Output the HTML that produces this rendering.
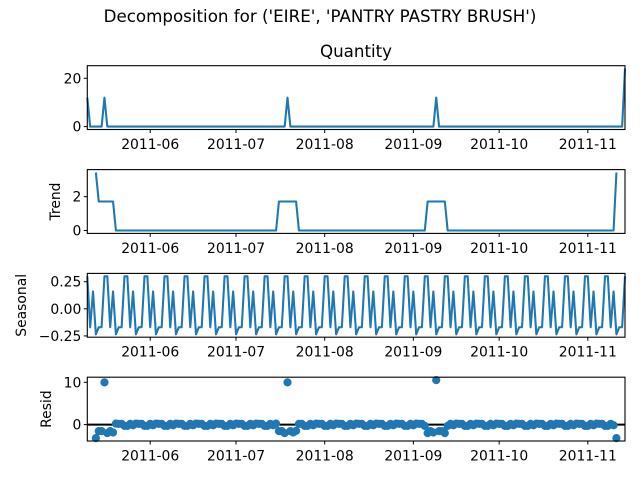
<!DOCTYPE html>
<html><head><meta charset="utf-8"><style>
html,body{margin:0;padding:0;background:#fff;}
svg text{font-family:"DejaVu Sans","Liberation Sans",sans-serif;fill:#000;}
</style></head><body>
<svg id="fig" width="640" height="480" viewBox="0 0 640 480" xmlns="http://www.w3.org/2000/svg">
<rect width="640" height="480" fill="#fff"/>
<text x="320" y="22" text-anchor="middle" font-size="16.7">Decomposition for ('EIRE', 'PANTRY PASTRY BRUSH')</text>
<text x="356" y="57" text-anchor="middle" font-size="16.7">Quantity</text>
<g id="plots"></g>
</svg>
<script>
const observed = [
12,0,0,0,0,0,12,0,0,0,
0,0,0,0,0,0,0,0,0,0,
0,0,0,0,0,0,0,0,0,0,
0,0,0,0,0,0,0,0,0,0,
0,0,0,0,0,0,0,0,0,0,
0,0,0,0,0,0,0,0,0,0,
0,0,0,0,0,0,0,0,0,0,
12,0,0,0,0,0,0,0,0,0,
0,0,0,0,0,0,0,0,0,0,
0,0,0,0,0,0,0,0,0,0,
0,0,0,0,0,0,0,0,0,0,
0,0,0,0,0,0,0,0,0,0,
0,0,12,0,0,0,0,0,0,0,
0,0,0,0,0,0,0,0,0,0,
0,0,0,0,0,0,0,0,0,0,
0,0,0,0,0,0,0,0,0,0,
0,0,0,0,0,0,0,0,0,0,
0,0,0,0,0,0,0,0,0,0,
0,0,0,0,0,0,0,0,24];
const period = 7;
const seasonalPattern = [0.30,-0.17,0.16,-0.235,-0.17,-0.17,0.30];
const monthTickDays = [22,52,83,114,144,175];
const monthTickLabels = ["2011-06","2011-07","2011-08","2011-09","2011-10","2011-11"];
const observedTicks = [0,20];
const trendTicks = [0,2];
const seasonalTicks = [-0.25,0,0.25];
const seasonalTickLabels = ["\u22120.25","0.00","0.25"];
const residTicks = [0,10];

const N = observed.length, h = Math.floor(period/2);
const trend = observed.map((v,i)=>{
  if(i<h||i>=N-h) return null;
  let s=0; for(let k=i-h;k<=i+h;k++) s+=observed[k]; return s/period;
});
const seasonal = observed.map((v,i)=>seasonalPattern[i%period]);
const resid = observed.map((v,i)=>trend[i]===null?null:v-trend[i]-seasonal[i]);

const X0=87.3, X1=625;
const xs = d => X0 + (X1-X0)*d/(N-1);
const NS="http://www.w3.org/2000/svg";
const root=document.getElementById('plots');
function el(tag,attrs,parent){const e=document.createElementNS(NS,tag);for(const k in attrs)e.setAttribute(k,attrs[k]);(parent||root).appendChild(e);return e;}

function panel(name,data,top,bot,ticks,tickLabels,ylabel,ylabelX,mode){
  const g=el('g',{});
  
  
  const vals=data.filter(v=>v!==null);
  let mn=Math.min(...vals), mx=Math.max(...vals);
  if(mode==='resid'){mn=Math.min(mn,0);mx=Math.max(mx,0);}
  const m=(mx-mn)*0.05; mn-=m; mx+=m;
  const ys=v=>bot-(v-mn)/(mx-mn)*(bot-top);
  if(mode==='resid'){
    const zl=el('line',{x1:X0,x2:X1,y1:ys(0),y2:ys(0),stroke:'#000','stroke-width':2},g);
    
    
    data.forEach((v,i)=>{ if(v===null)return;
      const c=el('circle',{cx:xs(i),cy:ys(v),r:4.1,fill:'#1f77b4'},g);
      
      
    });
  } else {
    let d='';
    data.forEach((v,i)=>{ if(v===null)return; d+=(d?'L':'M')+xs(i).toFixed(2)+','+ys(v).toFixed(2); });
    const p=el('path',{d:d,fill:'none',stroke:'#1f77b4','stroke-width':2.08,'stroke-linejoin':'round'},g);
    
    
  }
  const fr=el('rect',{x:X0,y:top,width:X1-X0,height:bot-top,fill:'none',stroke:'#000','stroke-width':1.1},g);
  
  
  ticks.forEach((t,k)=>{
    const y=ys(t);
    el('line',{x1:X0-3.5,x2:X0,y1:y,y2:y,stroke:'#000','stroke-width':1},g);
    const tx=el('text',{x:X0-6,y:y+5,'text-anchor':'end','font-size':13.9},g);
    tx.textContent=tickLabels?tickLabels[k]:String(t);
    
    
  });
  monthTickDays.forEach((d,k)=>{
    const x=xs(d);
    el('line',{x1:x,x2:x,y1:bot,y2:bot+3.5,stroke:'#000','stroke-width':1},g);
    const tx=el('text',{x:x,y:bot+19.5,'text-anchor':'middle','font-size':13.9},g);
    tx.textContent=monthTickLabels[k];
    
    
  });
  if(ylabel){
    const cy=(top+bot)/2;
    const yl=el('text',{x:ylabelX,y:cy,'text-anchor':'middle','font-size':13.9,transform:'rotate(-90 '+ylabelX+' '+cy+')'},g);
    yl.textContent=ylabel;
    
    
  }
}
panel('observed',observed,65.7,129.5,observedTicks,null,null,0,'line');
panel('trend',trend,169.6,233.4,trendTicks,null,'Trend',60,'line');
panel('seasonal',seasonal,273.4,337.2,seasonalTicks,seasonalTickLabels,'Seasonal',26,'line');
panel('resid',resid,377.2,441,residTicks,null,'Resid',51,'resid');
</script>
</body></html>
